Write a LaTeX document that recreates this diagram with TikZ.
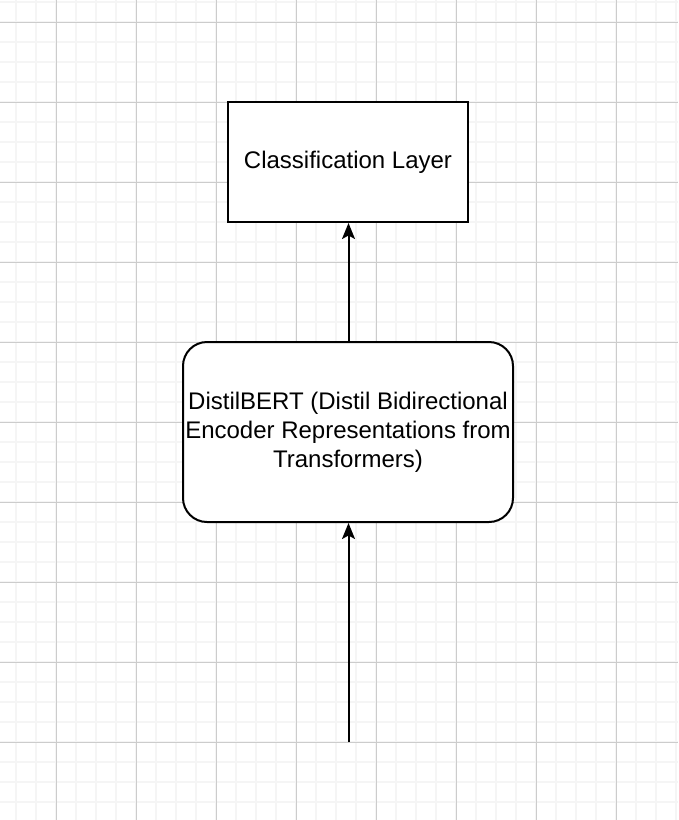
\documentclass[tikz,border=0pt]{standalone}
\usepackage{fontspec}
\setmainfont{Liberation Sans}
\usetikzlibrary{arrows.meta}
\begin{document}
\begin{tikzpicture}[x=1pt,y=-1pt,
  minorgrid/.style={draw=black!4,line width=1.6pt},
  majorgrid/.style={draw=black!20,line width=1pt},
  box/.style={draw=black,line width=2pt,fill=white,inner sep=0pt,align=center,
    font=\fontsize{24}{28.8}\selectfont},
  conn/.style={draw=black,line width=2pt,-{Stealth[length=16pt,width=13pt,inset=3.5pt]}}]
\useasboundingbox (0,0) rectangle (678,820);
\fill[white] (0,0) rectangle (678,820);
% minor grid
\foreach \x in {16,36,...,676} \draw[minorgrid] (\x,0) -- (\x,820);
\foreach \y in {2,22,...,818} \draw[minorgrid] (0,\y) -- (678,\y);
% major grid
\foreach \x in {56,136,...,676} \draw[majorgrid] (\x,0) -- (\x,820);
\foreach \y in {22,102,...,818} \draw[majorgrid] (0,\y) -- (678,\y);
% nodes
\node[box,minimum width=240pt,minimum height=120pt] (cls) at (348,162) {Classification Layer};
\node[box,rounded corners=24pt,minimum width=330pt,minimum height=180pt] (bert) at (348,432)
  {DistilBERT (Distil Bidirectional\\Encoder Representations from\\Transformers)};
\coordinate (in) at (348.5,742);
% connectors
\draw[conn] (bert.north -| in) -- (cls.south -| in);
\draw[conn] (in) -- (bert.south -| in);
\end{tikzpicture}
\end{document}
